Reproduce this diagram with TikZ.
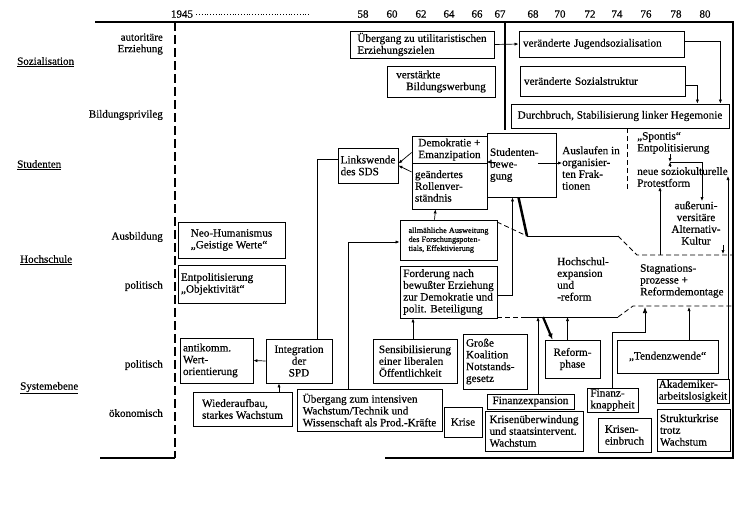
\documentclass[tikz,border=0pt]{standalone}
\usepackage{fontspec}
\setmainfont{Liberation Serif}[FakeBold=0.4]
\usetikzlibrary{arrows.meta,positioning,calc}

\begin{document}
\begin{tikzpicture}[
  x=1pt, y=-1pt,
  font=\fontsize{11.2}{11.8}\selectfont,
  >=Latex,
  box/.style={draw, line width=0.8pt, align=left, inner sep=2pt},
  note/.style={align=left, inner sep=0pt},
  side/.style={align=right, anchor=east, inner sep=0pt, font=\fontsize{11}{11.5}\selectfont},
  level/.style={anchor=west, inner sep=0pt, font=\fontsize{11}{12}\selectfont},
  yr/.style={inner sep=0pt, font=\fontsize{11}{12}\selectfont},
  arr/.style={-{Latex[length=4pt,width=3.2pt]}, line width=0.7pt},
  fat/.style={-{Latex[length=6pt,width=5pt]}, line width=2.2pt},
  dline/.style={line width=0.8pt, dash pattern=on 5pt off 3pt},
  frame/.style={line width=1.2pt}
]
\useasboundingbox (0,0) rectangle (750,504);

\node[yr] (y45) at (182,14) {1945};
\foreach \yr/\xp in {58/363,60/392,62/421,64/449,66/477,67/500,68/533,70/560,72/590,74/617,76/646,78/676,80/705}
  \node[yr] (y\yr) at (\xp,14) {\yr};
\draw[dotted, line width=0.8pt] ([xshift=3pt]y45.east) -- ([xshift=-49pt]y58.west);

\draw[frame] (95,22) -- (733,22) -- (733,458) -- (385,458);
\draw[frame] (100,458) -- (175,458);
\draw[line width=1.6pt, dash pattern=on 9pt off 4pt] (175,22) -- (175,458);
\draw[line width=2.2pt] (505,22) -- (505,130);

\node[level] (soz) at (17,62) {\underline{Sozialisation}};
\node[level] (stu) at (17,165) {\underline{Studenten}};
\node[level] (hoch) at (20,260) {\underline{Hochschule}};
\node[level] (sys) at (20,388) {\underline{Systemebene}};
\node[side] (autor) at (163,44) {autoritäre\\Erziehung};
\node[side] (bildp) at (163,115) {Bildungsprivileg};
\node[side] (ausb) at (163,237) {Ausbildung};
\node[side] (polh) at (163,286) {politisch};
\node[side] (pols) at (163,365) {politisch};
\node[side] (oek) at (163,413) {ökonomisch};

\node[box, minimum width=144pt, minimum height=27pt, inner sep=1pt] (utilz) at (422,44.5) {Übergang zu utilitaristischen\\Erziehungszielen};
\node[box, minimum width=108pt, minimum height=31pt] (bildw) at (441,81.5) {verstärkte\\\hspace*{10pt}Bildungswerbung};
\node[box, text width=157pt, inner sep=4pt, minimum height=26pt] (jugend) at (601.5,44) {veränderte Jugendsozialisation};
\node[box, text width=157pt, inner sep=4pt, minimum height=30pt] (sozstr) at (602.5,81) {veränderte Sozialstruktur};
\node[box, minimum width=218pt, minimum height=24pt, inner sep=1pt] (durch) at (620,116) {Durchbruch, Stabilisierung linker Hegemonie};

\node[box, minimum width=60pt, minimum height=35pt, inner sep=1pt] (links) at (368,165.5) {Linkswende\\des SDS};
\node[box, minimum width=75pt, minimum height=27pt] (demo) at (449.5,149.5) {Demokratie +\\Emanzipation};
\node[box, text width=69pt, inner sep=3pt, minimum height=46pt] (rolle) at (449.5,186) {geändertes\\Rollenver-\\ständnis};
\node[box, text width=63pt, inner sep=3pt, minimum height=64pt] (stud) at (521.5,165) {Studenten-\\bewe-\\gung\\[6pt]};
\node[note] (ausl) at (591,168) {Auslaufen in\\organisier-\\ten Frak-\\tionen};
\node[note, anchor=west] (spont) at (637,143) {„Spontis“\\Entpolitisierung};
\node[note, anchor=west] (protest) at (637,177) {neue soziokulturelle\\Protestform};
\node[note, align=center] (kultur) at (696,223) {außeruni-\\versitäre\\Alternativ-\\Kultur};
\node[note, anchor=west] (hexp) at (557,279) {Hochschul-\\expansion\\und\\-reform};
\node[note, anchor=west] (stagn) at (640,281) {Stagnations-\\prozesse +\\Reformdemontage};

\node[box, minimum width=107pt, minimum height=36pt] (neo) at (231.5,240) {Neo-Humanismus\\„Geistige Werte“};
\node[box, text width=101pt, inner sep=3pt, minimum height=38pt] (entp) at (231.5,284) {Entpolitisierung\\„Objektivität“};
\node[box, minimum width=97pt, minimum height=40pt, font=\fontsize{8.2}{9}\selectfont] (allm) at (448.5,240) {allmähliche Ausweitung\\des Forschungspoten-\\tials, Effektivierung};
\node[box, minimum width=97pt, minimum height=52pt, inner sep=1pt] (ford) at (448.5,292) {Forderung nach\\bewußter Erziehung\\zur Demokratie und\\polit. Beteiligung};

\node[box, text width=67pt, inner sep=3pt, minimum height=45pt] (antik) at (216.5,360.5) {antikomm.\\Wert-\\orientierung};
\node[box, minimum width=66pt, minimum height=44pt, align=center] (integ) at (299,361) {Integration\\der\\SPD};
\node[box, minimum width=99pt, minimum height=34pt] (wieder) at (242.5,409) {Wiederaufbau,\\starkes Wachstum};
\node[box, minimum width=145pt, minimum height=42pt, inner sep=1pt] (uebint) at (369.5,410) {Übergang zum intensiven\\Wachstum/Technik und\\Wissenschaft als Prod.-Kräfte};
\node[box, minimum width=84pt, minimum height=44pt, inner sep=1pt] (sens) at (415,361) {Sensibilisierung\\einer liberalen\\Öffentlichkeit};
\node[box, text width=58pt, inner sep=3pt, minimum height=55pt] (koal) at (495,361.5) {Große\\Koalition\\Notstands-\\gesetz};
\node[box, minimum width=55pt, minimum height=38pt, align=center] (reform) at (572.5,359) {Reform-\\phase};
\node[box, minimum width=101pt, minimum height=33pt] (tend) at (667.5,356.5) {„Tendenzwende“};
\node[box, minimum width=72pt, minimum height=24pt, inner sep=1pt] (akad) at (693,391) {Akademiker-\\arbeitslosigkeit};
\node[box, minimum width=38pt, minimum height=30pt, inner sep=1pt] (krise) at (463,422) {Krise};
\node[box, minimum width=87pt, minimum height=15pt, inner sep=1pt] (finexp) at (530.5,401.5) {Finanzexpansion};
\node[box, minimum width=98pt, minimum height=40pt, inner sep=1pt] (krisu) at (534,431) {Krisenüberwindung\\und staatsintervent.\\Wachstum};
\node[box, minimum width=51pt, minimum height=24pt, inner sep=1pt] (finkn) at (612.5,400) {Finanz-\\knappheit};
\node[box, minimum width=53pt, minimum height=34pt] (krisein) at (624.5,435) {Krisen-\\einbruch};
\node[box, text width=67pt, inner sep=3pt, minimum height=42pt] (strukt) at (693.5,430) {Strukturkrise\\trotz\\Wachstum};

\coordinate (sp) at (627,192);
\coordinate (sj) at (670,162);
\coordinate (dl) at (660,255);
\coordinate (pr) at (728,176);
\coordinate (kd) at (723,254);
\coordinate (hb) at (540,317);
\coordinate (sb) at (645,307);

\draw[dline] (497,222) -- (527,236);
\draw[line width=0.8pt] (527,236) -- (618,236);
\draw[dline] (618,236) -- (637,255) -- (733,255);
\draw[dline] (497,317) -- (522,317);
\draw[line width=0.8pt] (522,317) -- (618,317);
\draw[dline] (618,317) -- (633,306) -- (733,306);
\draw[dline] (sp |- durch.south) -- (sp);

\draw[arr] (utilz.east) -- (jugend.west);
\draw[arr] ([yshift=3pt]jugend.east) -| ([xshift=-9pt]durch.north east);
\draw[arr] ([yshift=-4pt]sozstr.east) -| ([xshift=-32pt]durch.north east);
\draw[arr] ([yshift=-3pt]demo.west) -- ([yshift=2pt]links.east);
\draw[arr] ([yshift=14pt]rolle.west) -- (links.east);
\draw ([yshift=6pt]links.west) -| ([xshift=18pt]integ.north);
\draw[arr] (integ.west) -- (antik.east);
\draw[arr] ([xshift=-20pt]integ.south |- wieder.north) -- ([xshift=-20pt]integ.south);
\draw[arr] ([xshift=-21pt]uebint.north) |- ([yshift=-2pt]allm.west);
\draw[arr] ([xshift=-14pt]allm.north) -- ([xshift=-14pt]rolle.south);
\draw[arr] ([xshift=-2pt]sens.north) -- ([xshift=-2pt]sens.north |- ford.south);
\draw[arr] ([yshift=-3pt]ford.east) -| ([xshift=-9pt]stud.south);
\draw[arr] ([xshift=9pt,yshift=3pt]stud.west) -- ([yshift=3pt]stud.west);
\draw[arr] ([xshift=-18pt]stud.east |- ausl.west) ++(0,-5) -- ([yshift=5pt]ausl.west);
\draw[line width=2.5pt] ([xshift=-3pt]stud.south) -- (527,236);

\draw[arr] (sj |- spont.south) -- (sj);
\draw[arr] (sj |- protest.north) -- (sj);
\draw[arr] (sj) -| ([xshift=6pt]kultur.north);
\draw[arr] (dl) -- (dl |- protest.south);
\draw[arr] (akad.north -| pr) -- (pr);
\draw[arr] (kd |- kultur.south) -- (kd);

\draw[fat] (543,317) -- ([xshift=-20pt]reform.north);
\draw[arr] ([xshift=-5pt]reform.north) -- ([xshift=-5pt]reform.north |- hb);
\draw[arr] ([xshift=7.5pt]finexp.north) -- ([xshift=7.5pt]finexp.north |- hb);
\draw[arr, -{Latex[length=6pt,width=4.5pt]}] (finkn.north) |- (sb |- 0,332) -- (sb);
\draw[arr] ([xshift=21.5pt]tend.north) -- ([xshift=21.5pt]tend.north |- sb);
\end{tikzpicture}
\end{document}
